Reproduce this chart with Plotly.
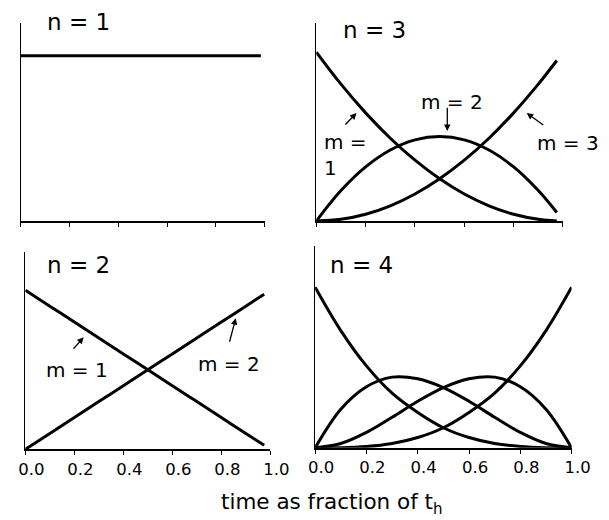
import plotly.graph_objects as go

# time points (fraction of t_h)
t_n1 = [0.0, 0.985]
t_n23 = [0.0, 0.1, 0.2, 0.3, 0.4, 0.5, 0.6, 0.7, 0.8, 0.9, 0.975]
t_n4 = [0.0, 0.1, 0.2, 0.3, 0.4, 0.5, 0.6, 0.7, 0.8, 0.9, 1.0]

# n = 1
n1_m1 = [1.0, 1.0]

# n = 2
n2_m1 = [1.0, 0.9, 0.8, 0.7, 0.6, 0.5, 0.4, 0.3, 0.2, 0.1, 0.025]
n2_m2 = [0.0, 0.1, 0.2, 0.3, 0.4, 0.5, 0.6, 0.7, 0.8, 0.9, 0.975]

# n = 3
n3_m1 = [1.0, 0.81, 0.64, 0.49, 0.36, 0.25, 0.16, 0.09, 0.04, 0.01, 0.0]
n3_m2 = [0.0, 0.18, 0.32, 0.42, 0.48, 0.5, 0.48, 0.42, 0.32, 0.18, 0.05]
n3_m3 = [0.0, 0.01, 0.04, 0.09, 0.16, 0.25, 0.36, 0.49, 0.64, 0.81, 0.95]

# n = 4
n4_m1 = [1.0, 0.73, 0.51, 0.34, 0.22, 0.125, 0.064, 0.027, 0.008, 0.001, 0.0]
n4_m2 = [0.0, 0.24, 0.38, 0.44, 0.43, 0.375, 0.29, 0.19, 0.096, 0.027, 0.0]
n4_m3 = [0.0, 0.027, 0.096, 0.19, 0.29, 0.375, 0.43, 0.44, 0.38, 0.24, 0.0]
n4_m4 = [0.0, 0.001, 0.008, 0.027, 0.064, 0.125, 0.22, 0.34, 0.51, 0.73, 1.0]

tick_vals = [0.0, 0.2, 0.4, 0.6, 0.8, 1.0]
tick_text = ['0.0', '0.2', '0.4', '0.6', '0.8', '1.0']

FONT = 'DejaVu Sans, Liberation Sans, Arial, sans-serif'

fig = go.Figure()

def add_curve(x, y, xa, ya):
    fig.add_trace(go.Scatter(x=x, y=y, xaxis=xa, yaxis=ya, mode='lines',
                             line=dict(color='black', width=3, shape='spline'),
                             cliponaxis=False, showlegend=False, hoverinfo='skip'))

# top left n=1 -> x/y, top right n=3 -> x2/y2, bottom left n=2 -> x3/y3, bottom right n=4 -> x4/y4
add_curve(t_n1, n1_m1, 'x', 'y')
for ys in [n3_m1, n3_m2, n3_m3]:
    add_curve(t_n23, ys, 'x2', 'y2')
for ys in [n2_m1, n2_m2]:
    add_curve(t_n23, ys, 'x3', 'y3')
for ys in [n4_m1, n4_m2, n4_m3, n4_m4]:
    add_curve(t_n4, ys, 'x4', 'y4')

def xaxis_style(domain, anchor, labels):
    return dict(domain=domain, anchor=anchor, range=[0, 1], showgrid=False, zeroline=False,
                showline=True, linecolor='black', linewidth=1.5,
                ticks='outside', ticklen=4, tickwidth=1, tickcolor='black',
                tickvals=tick_vals, ticktext=tick_text, showticklabels=labels,
                ticklabelshift=6, tickfont=dict(family=FONT, size=16.5, color='black'))

def yaxis_style(domain, anchor, top):
    return dict(domain=domain, anchor=anchor, range=[0, top], showgrid=False, zeroline=False,
                showline=True, linecolor='black', linewidth=1, ticks='', showticklabels=False)

# the page body has an 8px margin, so the figure is a bit smaller than the window
fig.update_layout(
    width=601, height=512,
    margin=dict(l=0, r=0, t=0, b=0),
    paper_bgcolor='white', plot_bgcolor='white',
    font=dict(family=FONT, color='black'),
    xaxis=xaxis_style([0.010, 0.434], 'y', False),
    yaxis=yaxis_style([0.584, 0.971], 'x', 1.2),
    xaxis2=xaxis_style([0.524, 0.953], 'y2', False),
    yaxis2=yaxis_style([0.584, 0.971], 'x2', 1.173),
    xaxis3=xaxis_style([0.018, 0.444], 'y3', True),
    yaxis3=yaxis_style([0.138, 0.523], 'x3', 1.239),
    xaxis4=xaxis_style([0.522, 0.968], 'y4', True),
    yaxis4=yaxis_style([0.141, 0.535], 'x4', 1.256),
)

def label(text, x, y, xa, ya, size=20, yshift=0):
    fig.add_annotation(text=text, x=x, y=y, xref=xa, yref=ya, showarrow=False,
                       xanchor='left', yanchor='middle', align='left', yshift=yshift,
                       font=dict(family=FONT, size=size, color='black'))

def arrow(x0, y0, x1, y1, xa, ya):
    fig.add_annotation(text='', x=x1, y=y1, ax=x0, ay=y0, xref=xa, yref=ya,
                       axref=xa, ayref=ya, showarrow=True, arrowhead=2,
                       arrowsize=1, arrowwidth=1.3, arrowcolor='black')

label('n = 1', 0.10, 1.2, 'x', 'y', 23, yshift=1)
label('n = 3', 0.10, 1.13, 'x2', 'y2', 23)
label('n = 2', 0.082, 1.157, 'x3', 'y3', 23)
label('n = 4', 0.049, 1.138, 'x4', 'y4', 23)

label('m = 2', 0.415, 0.704, 'x2', 'y2')
label('m = 3', 0.888, 0.46, 'x2', 'y2')
label('m =<br>1', 0.023, 0.388, 'x2', 'y2')
arrow(0.112, 0.562, 0.163, 0.639, 'x2', 'y2')
arrow(0.531, 0.68, 0.531, 0.533, 'x2', 'y2')
arrow(0.926, 0.562, 0.853, 0.639, 'x2', 'y2')

label('m = 1', 0.078, 0.497, 'x3', 'y3')
label('m = 2', 0.695, 0.535, 'x3', 'y3')
arrow(0.191, 0.623, 0.238, 0.704, 'x3', 'y3')
arrow(0.832, 0.667, 0.859, 0.824, 'x3', 'y3')

fig.add_annotation(text='time as fraction of t<sub>h</sub>', x=0.551, y=0,
                   xref='paper', yref='paper', xanchor='center', yanchor='bottom',
                   showarrow=False, font=dict(family=FONT, size=21.5, color='black'))

fig.write_html("out.html")
